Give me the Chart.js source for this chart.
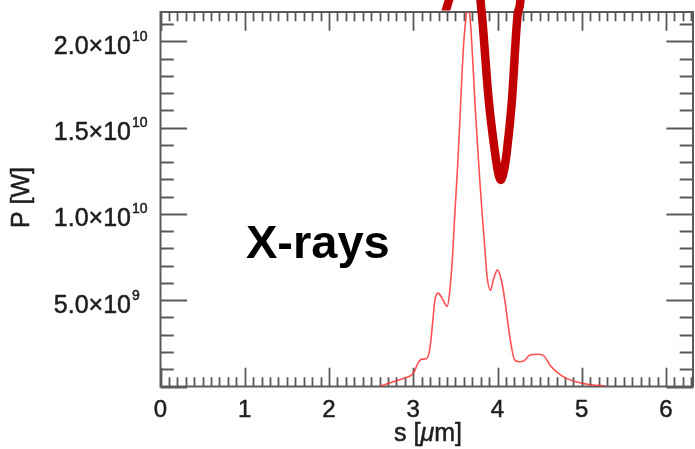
<!DOCTYPE html>
<html><head><meta charset="utf-8">
<script src="https://cdn.jsdelivr.net/npm/chart.js@4.4.0/dist/chart.umd.min.js"></script>
<style>html,body{margin:0;padding:0;background:#fff;overflow:hidden}#wrap{width:695px;height:449px}</style>
</head><body><div id="wrap"><canvas id="c" width="695" height="449"></canvas></div>
<script>
// thin X-ray power curve
const xrayS = [2.604,2.762,2.88,3.0,3.058,3.098,3.158,3.197,3.229,3.256,3.296,3.355,3.402,3.434,3.468,3.493,3.523,3.553,3.577,3.600,3.624,3.645,3.671,3.711,3.731,3.760,3.790,3.820,3.849,3.877,3.917,3.948,4.0,4.047,4.087,4.146,4.205,4.265,4.324,4.383,4.502,4.561,4.621,4.70,4.818,4.976,5.134,5.273];
const xrayP = [0,0.28e9,0.47e9,0.76e9,1.37e9,1.58e9,1.62e9,2.2e9,3.64e9,4.99e9,5.41e9,4.99e9,4.64e9,5.57e9,7.68e9,9.99e9,1.248e10,1.537e10,1.796e10,1.998e10,2.13e10,2.20e10,2.154e10,1.843e10,1.652e10,1.421e10,1.19e10,0.988e10,0.803e10,6.33e9,5.57e9,6.14e9,6.76e9,6.14e9,4.99e9,2.87e9,1.53e9,1.43e9,1.53e9,1.82e9,1.87e9,1.72e9,1.24e9,0.85e9,0.47e9,0.22e9,0.09e9,0.03e9];
// thick curve (V shape entering from the top)
const beamS = [3.785,3.80,3.814,3.897,3.968,4.004,4.039,4.075,4.111,4.17,4.24,4.27,4.285];
const beamP = [2.40e10,2.229e10,2.16e10,1.652e10,1.363e10,1.248e10,1.197e10,1.248e10,1.363e10,1.652e10,2.16e10,2.229e10,2.40e10];
// thick curve fragment above the frame
const beamTopS = [3.34,3.46];
const beamTopP = [2.10e10,2.30e10];

const xTickValues = [0,1,2,3,4,5,6];
const xTickLabels = ["0","1","2","3","4","5","6"];
const yTickValues = [5e9,1e10,1.5e10,2e10];
const yTickMantissa = ["5.0×10","1.0×10","1.5×10","2.0×10"];
const yTickExponent = ["9","10","10","10"];
const xMin = 0, xMax = 6.32, yMin = 0, yMax = 2.17e10;
const xMinorStep = 0.1, yMinorStep = 1e9;
const annotationText = "X-rays";

const FONT = '"Liberation Sans", Arial, Helvetica, sans-serif';
const AXIS_COLOR = '#5a5a5a';
const TEXT_COLOR = '#1e1e1e';

function heavyText(ctx, txt, x, y) {
  ctx.fillText(txt, x, y);
  ctx.strokeText(txt, x, y);
}

const framePlugin = {
  id: 'frame',
  beforeDatasetsDraw(chart) {
    const {ctx, chartArea: a, scales: {x, y}} = chart;
    ctx.save();
    ctx.strokeStyle = AXIS_COLOR;
    ctx.lineWidth = 2;
    ctx.strokeRect(a.left, a.top, a.right - a.left, a.bottom - a.top);
    ctx.lineWidth = 1.8;
    const h = a.bottom - a.top, w = a.right - a.left;
    const xMaj = 0.05 * h, yMaj = 0.05 * w;
    ctx.beginPath();
    for (let i = 0; i * xMinorStep <= xMax + 1e-9; i++) {
      const px = Math.round(x.getPixelForValue(i * xMinorStep)) + 0.5;
      const len = (i % 10 === 0) ? xMaj : xMaj / 2;
      ctx.moveTo(px, a.bottom); ctx.lineTo(px, a.bottom - len);
      ctx.moveTo(px, a.top); ctx.lineTo(px, a.top + len);
    }
    for (let i = 0; i * yMinorStep <= yMax + 1; i++) {
      const py = Math.round(y.getPixelForValue(i * yMinorStep)) + 0.5;
      const len = (i % 5 === 0) ? yMaj : yMaj / 2;
      ctx.moveTo(a.left, py); ctx.lineTo(a.left + len, py);
      ctx.moveTo(a.right, py); ctx.lineTo(a.right - len, py);
    }
    ctx.stroke();
    ctx.restore();
  },
  afterDraw(chart) {
    const {ctx, chartArea: a, scales: {x, y}} = chart;
    ctx.save();
    ctx.fillStyle = TEXT_COLOR;
    ctx.strokeStyle = TEXT_COLOR;
    ctx.lineWidth = 0.5;
    // x tick labels
    ctx.font = '24px ' + FONT;
    ctx.textAlign = 'center';
    ctx.textBaseline = 'alphabetic';
    xTickValues.forEach((v, i) => {
      heavyText(ctx, xTickLabels[i], x.getPixelForValue(v), 417);
    });
    // y tick labels with superscript exponent
    yTickValues.forEach((v, i) => {
      const py = y.getPixelForValue(v);
      ctx.font = '25px ' + FONT;
      ctx.textAlign = 'right';
      heavyText(ctx, yTickMantissa[i], 131, py + 12.5);
      ctx.font = '14px ' + FONT;
      ctx.textAlign = 'left';
      heavyText(ctx, yTickExponent[i], 132, py - 0.5);
    });
    // y title
    ctx.save();
    ctx.translate(22.5, 197.5);
    ctx.rotate(-Math.PI / 2);
    ctx.font = '25px ' + FONT;
    ctx.textAlign = 'center';
    ctx.textBaseline = 'middle';
    heavyText(ctx, 'P [W]', 0, 0);
    ctx.restore();
    // x title: s [µm] with italic mu
    ctx.textBaseline = 'alphabetic';
    ctx.textAlign = 'left';
    const parts = [['s [', '25px '], ['\u03bc', 'italic 25px '], ['m]', '25px ']];
    let total = 0;
    parts.forEach(p => { ctx.font = p[1] + FONT; total += ctx.measureText(p[0]).width; });
    let cx = 428 - total / 2;
    parts.forEach(p => { ctx.font = p[1] + FONT; heavyText(ctx, p[0], cx, 441); cx += ctx.measureText(p[0]).width; });
    // annotation
    ctx.fillStyle = '#000';
    ctx.font = 'bold 47px ' + FONT;
    ctx.fillText(annotationText, 246, 258);
    ctx.restore();
  }
};

new Chart(document.getElementById('c'), {
  type: 'line',
  data: {
    datasets: [
      {
        data: beamS.map((s, i) => ({x: s, y: beamP[i]})),
        borderColor: '#c00000', borderWidth: 8.5, pointRadius: 0,
        cubicInterpolationMode: 'monotone', clip: false, order: 0
      },
      {
        data: beamTopS.map((s, i) => ({x: s, y: beamTopP[i]})),
        borderColor: '#c00000', borderWidth: 8.5, pointRadius: 0,
        clip: {left: false, right: false, top: 12, bottom: -376}, order: 0
      },
      {
        data: xrayS.map((s, i) => ({x: s, y: xrayP[i]})),
        borderColor: 'rgba(255,50,50,0.85)', borderWidth: 1.6, pointRadius: 0,
        cubicInterpolationMode: 'monotone', order: 1
      }
    ]
  },
  options: {
    responsive: false, animation: false, devicePixelRatio: 1,
    layout: {padding: {top: 12, right: 2, left: 0, bottom: 0}},
    plugins: {legend: {display: false}, tooltip: {enabled: false}},
    scales: {
      x: {
        type: 'linear', min: xMin, max: xMax,
        afterBuildTicks: s => { s.ticks = xTickValues.map(v => ({value: v})); },
        afterFit: s => { s.height = 62.5; },
        ticks: {display: false},
        grid: {display: false, drawTicks: false}, border: {display: false}
      },
      y: {
        type: 'linear', min: yMin, max: yMax,
        afterBuildTicks: s => { s.ticks = yTickValues.map(v => ({value: v})); },
        afterFit: s => { s.width = 160.5; },
        ticks: {display: false},
        grid: {display: false, drawTicks: false}, border: {display: false}
      }
    }
  },
  plugins: [framePlugin]
});
</script></body></html>
